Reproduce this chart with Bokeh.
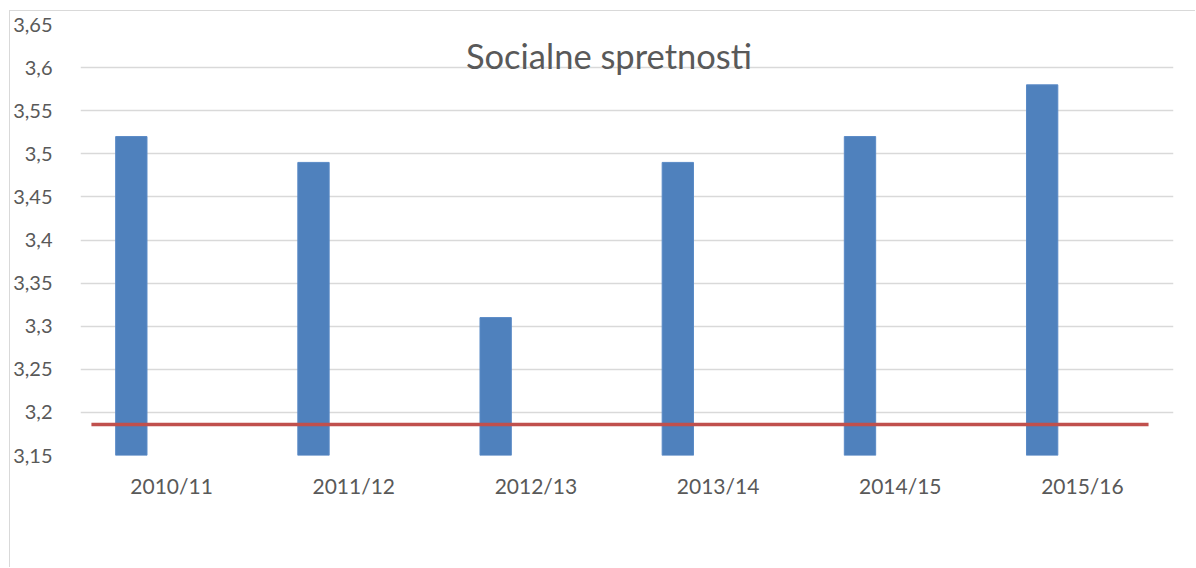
from bokeh.plotting import figure
from bokeh.models import FactorRange, Range1d, FixedTicker, CustomJSTickFormatter, Label, ColumnDataSource
from bokeh.transform import dodge
from bokeh.embed import file_html
from bokeh.resources import INLINE

# data
categories = ["2010/11", "2011/12", "2012/13", "2013/14", "2014/15", "2015/16"]
values = [3.52, 3.49, 3.31, 3.49, 3.52, 3.58]
average = 3.186
y_ticks = [3.15, 3.2, 3.25, 3.3, 3.35, 3.4, 3.45, 3.5, 3.55, 3.6, 3.65]
title_text = "Socialne spretnosti"

FONT = "Lato"
TXT = "#595959"

p = figure(width=1186, height=557, x_range=FactorRange(*categories, range_padding=0),
           y_range=Range1d(3.15, 3.65), output_backend="svg", toolbar_location=None,
           min_border_left=68, min_border_right=23, min_border_top=13, min_border_bottom=113)
p.styles = {"margin-left": "9px", "margin-top": "10px",
            "border-left": "1px solid #d9d9d9", "border-top": "1px solid #d9d9d9"}
p.outline_line_color = None
p.background_fill_color = "white"
p.border_fill_color = "white"

src = ColumnDataSource(dict(cat=categories, val=values, base=[y_ticks[0]] * len(values)))
p.vbar(x=dodge("cat", -0.221, range=p.x_range), top="val", bottom="base", width=0.172,
       source=src, fill_color="#4f81bd", line_color="#5a8ac6", line_width=1)

p.line(x=[0.06, 5.863], y=[average, average], line_color="#c0504d", line_width=3.5)

p.yaxis.ticker = FixedTicker(ticks=y_ticks)
p.yaxis.formatter = CustomJSTickFormatter(code="return tick.toFixed(2).replace(/0$/, '').replace('.', ',');")
for ax in (p.xaxis[0], p.yaxis[0]):
    ax.axis_line_color = None
    ax.major_tick_line_color = None
    ax.minor_tick_line_color = None
    ax.major_label_text_font = FONT
    ax.major_label_text_color = TXT
p.yaxis.major_label_text_font_size = "20px"
p.xaxis.major_label_text_font_size = "21px"
p.yaxis.major_label_standoff = 22
p.xaxis.major_label_standoff = 11

p.xgrid.grid_line_color = None
p.ygrid.grid_line_color = "#d9d9d9"
p.ygrid.grid_line_width = 1.3

p.add_layout(Label(x=2.901, y=3.6144, text=title_text, text_align="center", text_baseline="alphabetic",
                   text_font=FONT, text_font_size="34.5px", text_color=TXT))

open("out.html", "w").write(file_html(p, INLINE))
